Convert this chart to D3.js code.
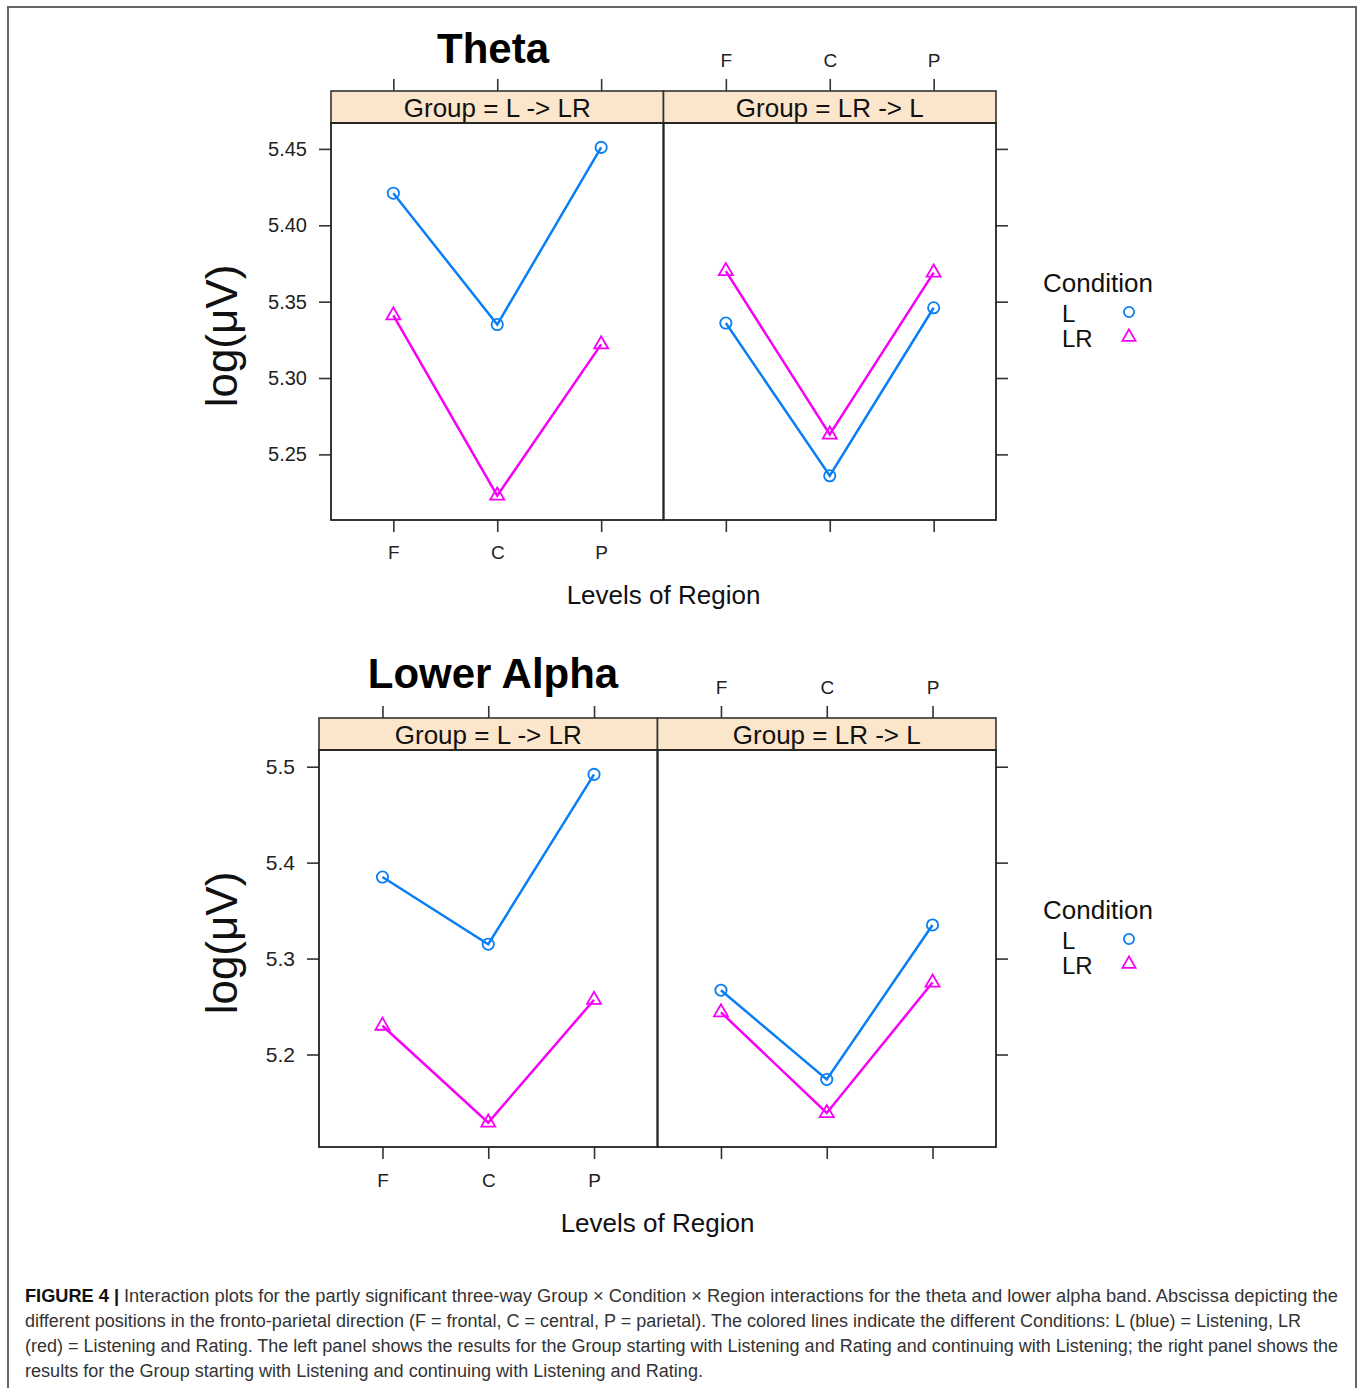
<!DOCTYPE html>
<html>
<head>
<meta charset="utf-8">
<script src="https://cdn.jsdelivr.net/npm/d3@7"></script>
<style>
    body { margin: 0; background: #fff; }
    svg { display: block; }
</style>
</head>
<body>
<div id="chart"></div>
<script>
// Region levels on the abscissa, groups in the strips, conditions in the legend
const regions = ['F', 'C', 'P'];
const groups = ['L -> LR', 'LR -> L'];
const conditions = ['L', 'LR'];

// Theta band, log(µV) per region (F, C, P)
const thetaL_LtoLR = [5.421, 5.335, 5.451];
const thetaLR_LtoLR = [5.341, 5.223, 5.322];
const thetaL_LRtoL = [5.336, 5.236, 5.346];
const thetaLR_LRtoL = [5.370, 5.263, 5.369];

// Lower alpha band, log(µV) per region (F, C, P)
const alphaL_LtoLR = [5.385, 5.315, 5.492];
const alphaLR_LtoLR = [5.230, 5.129, 5.257];
const alphaL_LRtoL = [5.267, 5.174, 5.335];
const alphaLR_LRtoL = [5.244, 5.139, 5.275];

const thetaTicks = [5.25, 5.30, 5.35, 5.40, 5.45];
const alphaTicks = [5.2, 5.3, 5.4, 5.5];

const captionBold = 'FIGURE 4 |';
const captionLines = [
    'Interaction plots for the partly significant three-way Group \u00d7 Condition \u00d7 Region interactions for the theta and lower alpha band. Abscissa depicting the',
    'different positions in the fronto-parietal direction (F = frontal, C = central, P = parietal). The colored lines indicate the different Conditions: L (blue) = Listening, LR',
    '(red) = Listening and Rating. The left panel shows the results for the Group starting with Listening and Rating and continuing with Listening; the right panel shows the',
    'results for the Group starting with Listening and continuing with Listening and Rating.'
];

const colors = { L: '#0a7ff5', LR: '#f600f6' };
const FONT = "'Liberation Sans', Arial, Helvetica, sans-serif";

const W = 1358, H = 1388;
const svg = d3.select('#chart').append('svg')
    .attr('width', W)
    .attr('height', H)
    .style('font-family', FONT);

// figure frame
svg.append('rect')
    .attr('x', 8).attr('y', 7)
    .attr('width', 1348).attr('height', 1400)
    .attr('fill', 'none')
    .attr('stroke', '#666')
    .attr('stroke-width', 2);

function drawBlock(cfg) {
    const g = svg.append('g');
    const pw = (cfg.right - cfg.left) / 2;

    // lattice style limits: data range extended by 7% on each side
    const allVals = cfg.panels.flatMap(p => conditions.flatMap(c => p[c]));
    const [lo, hi] = d3.extent(allVals);
    const pad = (hi - lo) * 0.07;

    const y = d3.scaleLinear()
        .domain([lo - pad, hi + pad])
        .range([cfg.bottom, cfg.stripBottom]);

    const xs = cfg.panels.map((p, i) => d3.scalePoint()
        .domain(regions)
        .range([cfg.left + i * pw, cfg.left + (i + 1) * pw])
        .padding(0.6));

    function styleAxis(sel, size) {
        sel.select('.domain').remove();
        sel.selectAll('.tick line').attr('stroke', '#333').attr('stroke-width', 1.6);
        sel.selectAll('.tick text')
            .attr('fill', '#222')
            .style('font-family', FONT)
            .style('font-size', size + 'px');
    }

    // y axes
    g.append('g')
        .attr('transform', `translate(${cfg.left},0)`)
        .call(d3.axisLeft(y).tickValues(cfg.ticks).tickSize(12).tickPadding(12)
            .tickFormat(d3.format(cfg.fmt)))
        .call(s => styleAxis(s, cfg.tickFont));

    g.append('g')
        .attr('transform', `translate(${cfg.right},0)`)
        .call(d3.axisRight(y).tickValues(cfg.ticks).tickSize(12).tickFormat(''))
        .call(s => styleAxis(s, cfg.tickFont));

    cfg.panels.forEach((p, i) => {
        const x = xs[i];
        const x0 = cfg.left + i * pw;

        // x axes, labels alternate like lattice
        g.append('g')
            .attr('transform', `translate(0,${cfg.bottom})`)
            .call(d3.axisBottom(x).tickSize(12).tickPadding(cfg.bottomPad)
                .tickFormat(d => i === 0 ? d : ''))
            .call(s => styleAxis(s, cfg.xFont));

        g.append('g')
            .attr('transform', `translate(0,${cfg.stripTop})`)
            .call(d3.axisTop(x).tickSize(12).tickPadding(cfg.topPad)
                .tickFormat(d => i === 1 ? d : ''))
            .call(s => styleAxis(s, cfg.xFont));

        // strip
        g.append('rect')
            .attr('x', x0).attr('y', cfg.stripTop)
            .attr('width', pw).attr('height', cfg.stripBottom - cfg.stripTop)
            .attr('fill', '#fbe5cb')
            .attr('stroke', '#333')
            .attr('stroke-width', 1.6);

        g.append('text')
            .attr('x', x0 + pw / 2)
            .attr('y', cfg.stripBottom - 6)
            .attr('text-anchor', 'middle')
            .attr('font-size', 26)
            .attr('fill', '#111')
            .text(`Group = ${groups[i]}`);

        // panel box
        g.append('rect')
            .attr('x', x0).attr('y', cfg.stripBottom)
            .attr('width', pw).attr('height', cfg.bottom - cfg.stripBottom)
            .attr('fill', 'none')
            .attr('stroke', '#222')
            .attr('stroke-width', 1.8);

        const line = d3.line()
            .x((d, k) => x(regions[k]))
            .y(d => y(d));

        conditions.forEach(c => {
            g.append('path')
                .datum(p[c])
                .attr('d', line)
                .attr('fill', 'none')
                .attr('stroke', colors[c])
                .attr('stroke-width', 2.5);

            const pts = g.append('g').selectAll('path.pt')
                .data(p[c])
                .join('path')
                .attr('class', 'pt')
                .attr('transform', (d, k) => `translate(${x(regions[k])},${y(d)})`)
                .attr('fill', 'none')
                .attr('stroke', colors[c])
                .attr('stroke-width', 1.8);

            if (c === 'L') {
                pts.attr('d', d3.symbol(d3.symbolCircle, 100)());
            } else {
                pts.attr('d', d3.symbol(d3.symbolTriangle, 85)());
            }
        });
    });

    // title
    g.append('text')
        .attr('x', cfg.titleX)
        .attr('y', cfg.titleY)
        .attr('text-anchor', 'middle')
        .attr('font-size', 42)
        .attr('font-weight', 'bold')
        .attr('fill', '#000')
        .text(cfg.title);

    // axis titles
    g.append('text')
        .attr('x', (cfg.left + cfg.right) / 2)
        .attr('y', cfg.xlabY)
        .attr('text-anchor', 'middle')
        .attr('font-size', 26)
        .attr('fill', '#111')
        .text('Levels of Region');

    g.append('text')
        .attr('transform', `translate(237,${cfg.ylabY}) rotate(-90)`)
        .attr('text-anchor', 'middle')
        .attr('font-size', 44)
        .attr('fill', '#111')
        .text('log(\u03bcV)');

    // legend
    const lg = g.append('g').attr('transform', `translate(1043,${cfg.legendY})`);
    lg.append('text')
        .attr('x', 0).attr('y', 0)
        .attr('font-size', 26)
        .attr('fill', '#111')
        .text('Condition');

    conditions.forEach((c, k) => {
        const ly = 30 + k * 25;
        lg.append('text')
            .attr('x', 19).attr('y', ly)
            .attr('font-size', 24)
            .attr('fill', '#111')
            .text(c);
        lg.append('path')
            .attr('transform', `translate(86,${ly - 10})`)
            .attr('d', d3.symbol(c === 'L' ? d3.symbolCircle : d3.symbolTriangle, c === 'L' ? 80 : 75)())
            .attr('fill', 'none')
            .attr('stroke', colors[c])
            .attr('stroke-width', 1.8);
    });
}

drawBlock({
    title: 'Theta',
    titleX: 493, titleY: 63,
    left: 331, right: 996,
    stripTop: 91, stripBottom: 123, bottom: 520,
    ticks: thetaTicks, fmt: '.2f',
    tickFont: 20, xFont: 19,
    bottomPad: 14, topPad: 12,
    xlabY: 604, ylabY: 336,
    legendY: 292,
    panels: [
        { L: thetaL_LtoLR, LR: thetaLR_LtoLR },
        { L: thetaL_LRtoL, LR: thetaLR_LRtoL }
    ]
});

drawBlock({
    title: 'Lower Alpha',
    titleX: 493, titleY: 688,
    left: 319, right: 996,
    stripTop: 718, stripBottom: 750, bottom: 1147,
    ticks: alphaTicks, fmt: '.1f',
    tickFont: 21, xFont: 19,
    bottomPad: 15, topPad: 12,
    xlabY: 1232, ylabY: 943,
    legendY: 919,
    panels: [
        { L: alphaL_LtoLR, LR: alphaLR_LtoLR },
        { L: alphaL_LRtoL, LR: alphaLR_LRtoL }
    ]
});

// caption, squeezed to the measured line widths
const cap = svg.append('g').attr('fill', '#333').attr('font-size', 18);
const lineEnds = [1338, 1301, 1338, 703];
cap.append('text')
    .attr('x', 25).attr('y', 1302)
    .attr('font-weight', 'bold')
    .attr('fill', '#111')
    .attr('textLength', 94)
    .attr('lengthAdjust', 'spacingAndGlyphs')
    .text(captionBold);

captionLines.forEach((t, i) => {
    const x0 = i === 0 ? 124 : 25;
    cap.append('text')
        .attr('x', x0)
        .attr('y', 1302 + i * 25)
        .attr('textLength', lineEnds[i] - x0)
        .attr('lengthAdjust', 'spacingAndGlyphs')
        .text(t);
});
</script>
</body>
</html>
